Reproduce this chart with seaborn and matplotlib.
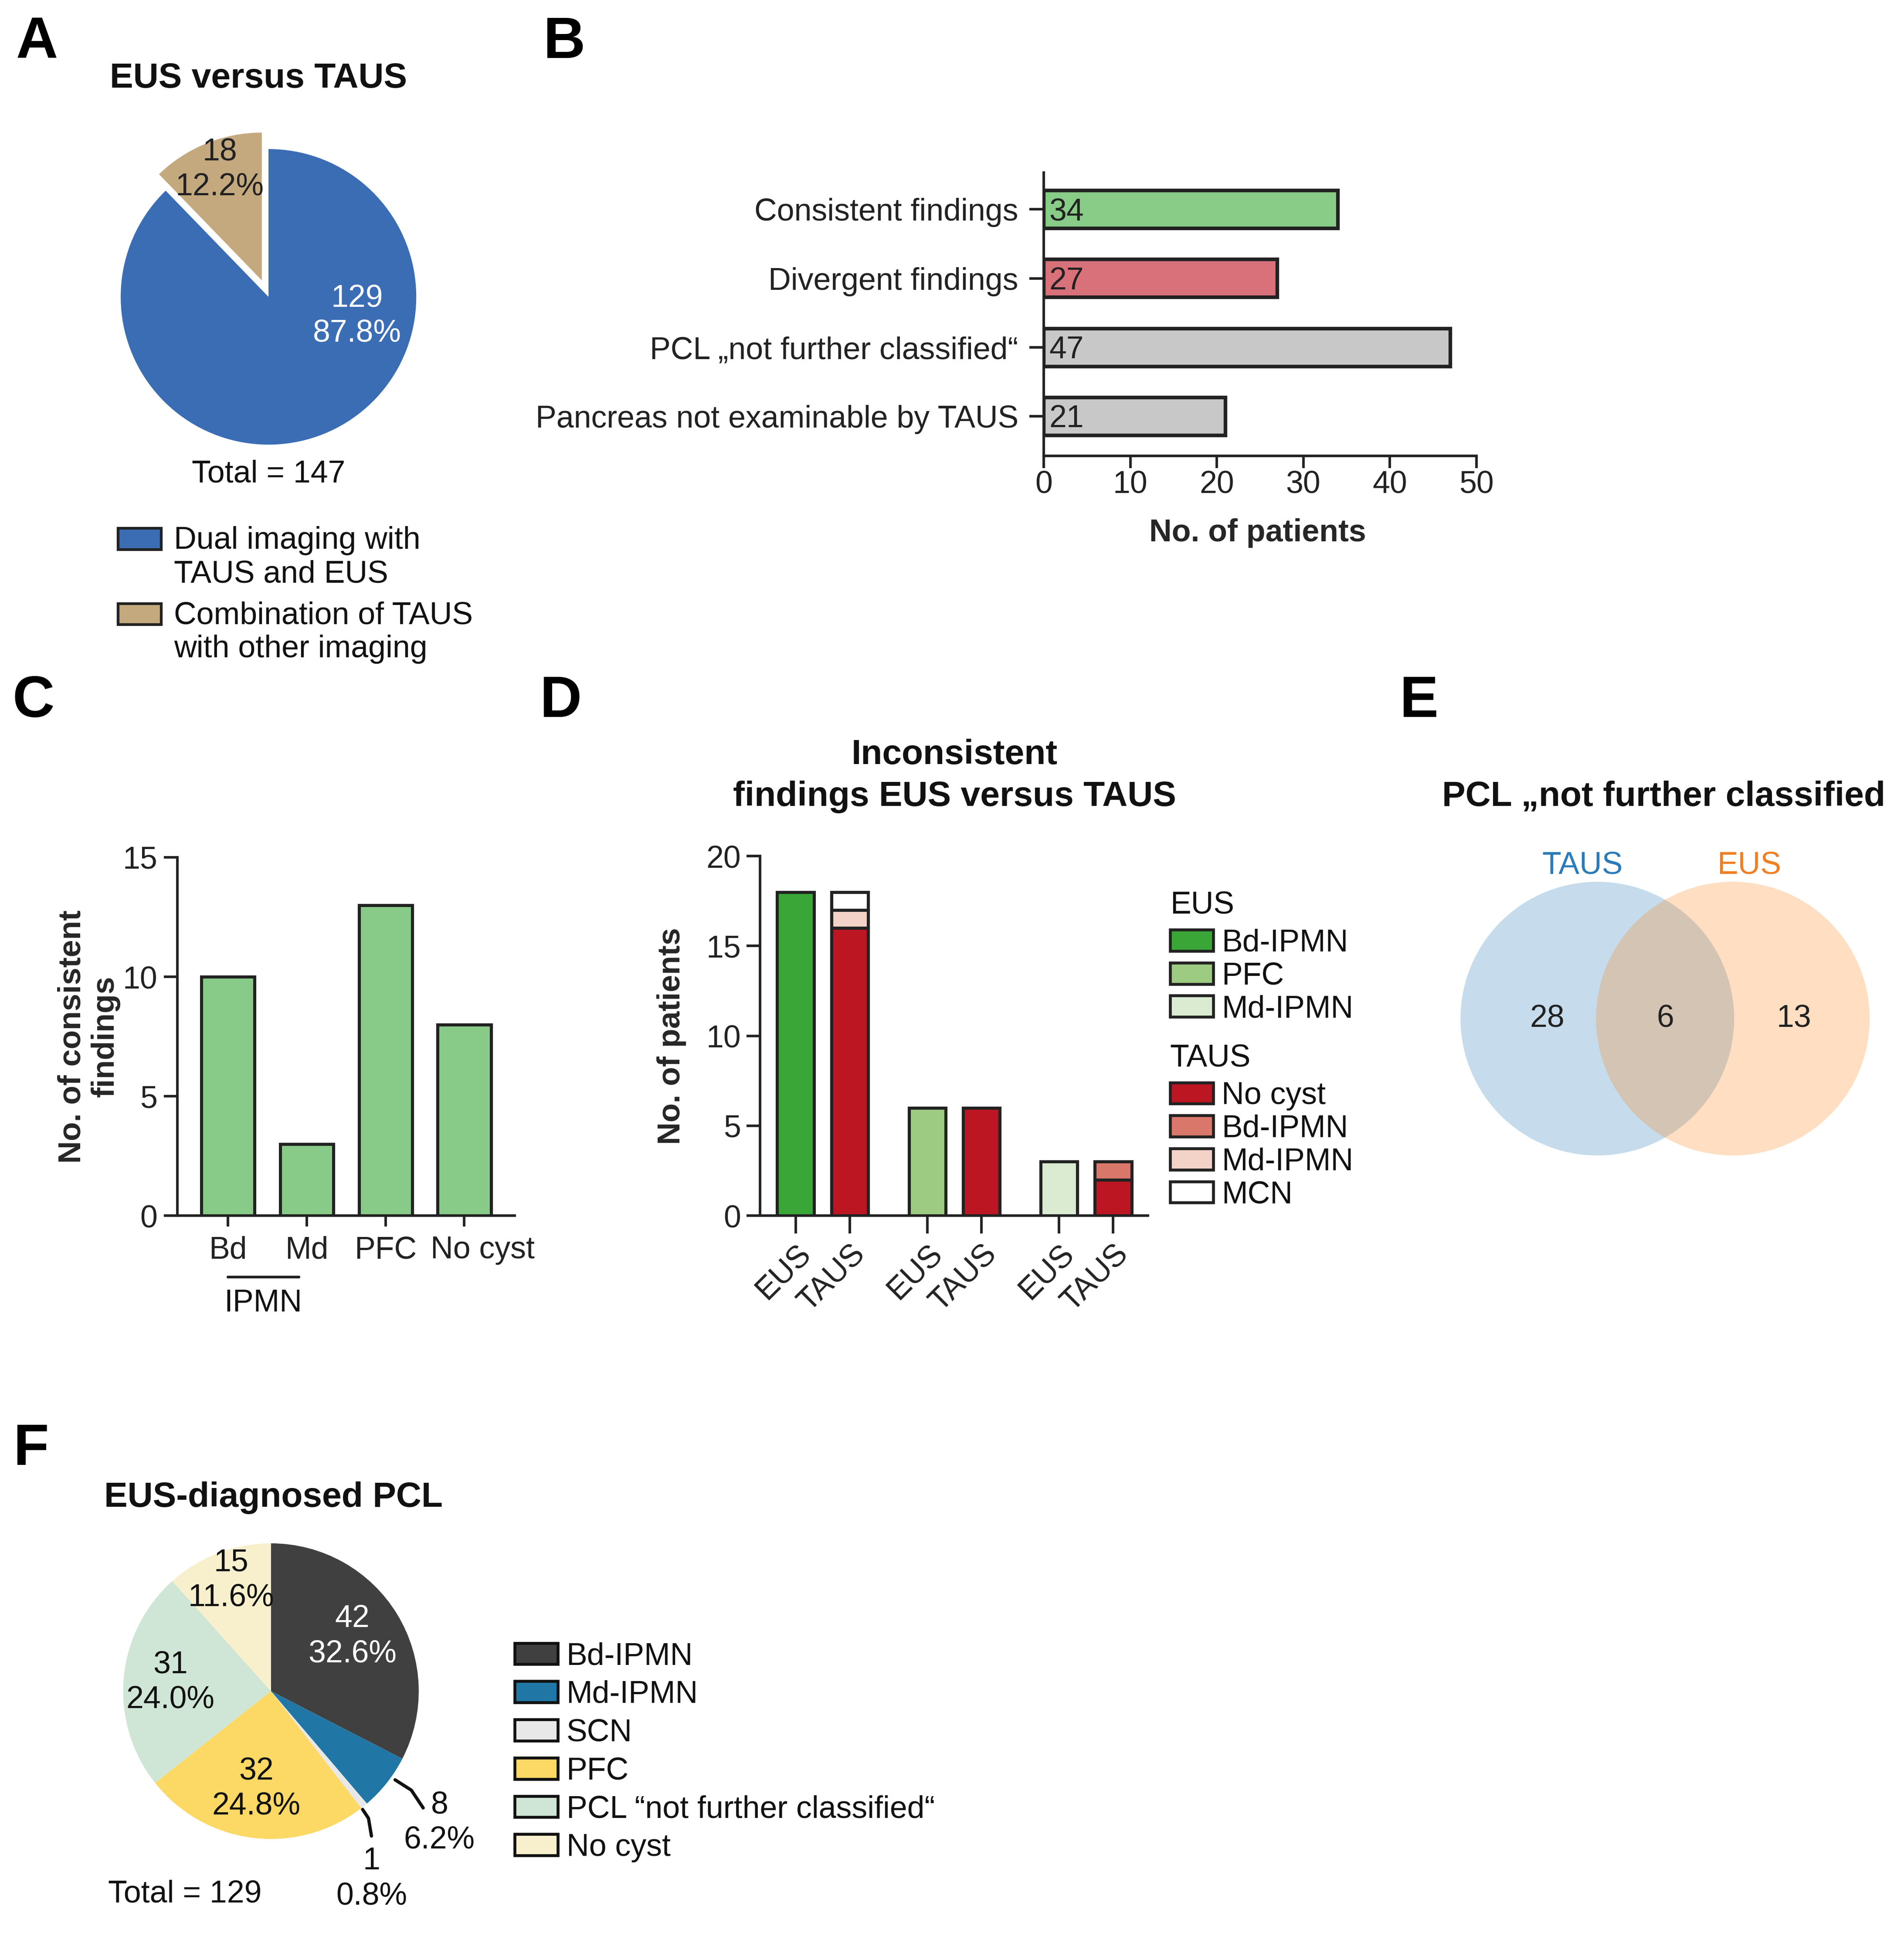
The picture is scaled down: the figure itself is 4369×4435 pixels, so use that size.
import numpy as np
import pandas as pd
import seaborn as sns
import matplotlib.pyplot as plt
from matplotlib.patches import Patch, Circle, Rectangle
from matplotlib.legend_handler import HandlerPatch
from matplotlib.transforms import ScaledTranslation

# ---- data ----
a_labels = ["Dual imaging with\nTAUS and EUS", "Combination of TAUS\nwith other imaging"]
a_counts = [129, 18]
a_pct = ["87.8%", "12.2%"]

b_categories = ["Consistent findings", "Divergent findings",
                "PCL \u201enot further classified\u201c", "Pancreas not examinable by TAUS"]
b_values = [34, 27, 47, 21]

c_categories = ["Bd", "Md", "PFC", "No cyst"]
c_values = [10, 3, 13, 8]

d_bars = ["EUS", "TAUS", "EUS", "TAUS", "EUS", "TAUS"]
d_eus_bd = [18, 0, 0, 0, 0, 0]
d_eus_pfc = [0, 0, 6, 0, 0, 0]
d_eus_md = [0, 0, 0, 0, 3, 0]
d_taus_nocyst = [0, 16, 0, 6, 0, 2]
d_taus_bd = [0, 0, 0, 0, 0, 1]
d_taus_md = [0, 1, 0, 0, 0, 0]
d_taus_mcn = [0, 1, 0, 0, 0, 0]

e_sets = ["TAUS", "EUS"]
e_counts = [28, 6, 13]  # TAUS only, both, EUS only

f_labels = ["Bd-IPMN", "Md-IPMN", "SCN", "PFC", "PCL \u201cnot further classified\u201c", "No cyst"]
f_counts = [42, 8, 1, 32, 31, 15]
f_pct = ["32.6%", "6.2%", "0.8%", "24.8%", "24.0%", "11.6%"]

# ---- style ----
sns.set_theme(style="ticks")
plt.rcParams["font.family"] = ["Liberation Sans", "DejaVu Sans"]
plt.rcParams.update({"axes.linewidth": 1.4, "xtick.major.width": 1.4, "ytick.major.width": 1.4,
                     "xtick.color": "#222222", "ytick.color": "#222222",
                     "axes.edgecolor": "#222222", "text.color": "#111111"})
FS = 17.2
TS = 19.3

fig = plt.figure(figsize=(4369 / 300, 4435 / 300), dpi=300)
S = 2.826
W, H = 4369 / S, 4435 / S


def box(x0, y0, x1, y1):
    return [x0 / W, 1 - y1 / H, (x1 - x0) / W, (y1 - y0) / H]


def ftext(x, y, s, **kw):
    kw.setdefault("ha", "center")
    kw.setdefault("va", "center")
    kw.setdefault("fontsize", FS)
    fig.text(x / W, 1 - y / H, s, **kw)


def top_patch(legend, orig_handle, xdescent, ydescent, width, height, fontsize):
    # align the swatch with the first line of a two-line label
    return Rectangle((-xdescent, -ydescent + 0.6 * fontsize), width, height)


for letter, (x, y) in zip("ABCDEF", [(30, 35), (458, 35), (27, 570), (455, 570), (1152, 570), (25, 1177)]):
    ftext(x, y, letter, fontsize=32, fontweight="bold", color="black")

# ---- A: pie ----
R = 120
ax = fig.add_axes(box(218 - 1.3 * R, 241 - 1.3 * R, 218 + 1.3 * R, 241 + 1.3 * R))
ax.pie(a_counts, colors=["#3b6db4", "#c4a97f"], startangle=90, counterclock=False,
       explode=[0, 0.12], wedgeprops=dict(linewidth=0))
ax.set_xlim(-1.3, 1.3)
ax.set_ylim(-1.3, 1.3)
ax.text(0.6, -0.13, f"{a_counts[0]}\n{a_pct[0]}", color="white", ha="center", va="center",
        fontsize=FS, linespacing=1.25)
ax.text(-0.33, 0.86, f"{a_counts[1]}\n{a_pct[1]}", color="#222222", ha="center", va="center",
        fontsize=FS, linespacing=1.25)
ftext(210, 64, "EUS versus TAUS", fontweight="bold", fontsize=TS)
ftext(218, 385, f"Total = {sum(a_counts)}")
fig.legend(handles=[Patch(facecolor=c, edgecolor="#222222", linewidth=1.5) for c in ["#3b6db4", "#c4a97f"]],
           labels=a_labels, loc="upper left", bbox_to_anchor=(96 / W, 1 - 427 / H), frameon=False,
           fontsize=FS, handlelength=1.38, handleheight=0.67, handletextpad=0.4, labelspacing=0.39,
           borderpad=0, borderaxespad=0, handler_map={Patch: HandlerPatch(patch_func=top_patch)})

# ---- B: horizontal bars ----
ax = fig.add_axes(box(847.5, 140, 1198.7, 370))
df_b = pd.DataFrame({"category": b_categories, "value": b_values})
sns.barplot(data=df_b, y="category", x="value", hue="category", orient="h", legend=False,
            palette=["#88cc88", "#d9717a", "#c8c8c8", "#c8c8c8"], width=0.55,
            edgecolor="#222222", linewidth=2.0, saturation=1, ax=ax)
for i, v in enumerate(b_values):
    ax.text(0.6, i + 0.04, str(v), ha="left", va="center", fontsize=FS, color="#222222")
ax.set_xlim(0, 50)
ax.set_ylim(3.57, -0.536)
ax.set_xticks(range(0, 51, 10))
ax.set_ylabel("")
ax.set_xlabel("No. of patients", fontweight="bold", fontsize=FS)
ax.xaxis.set_label_coords(0.495, -0.22)
ax.tick_params(axis="y", length=8, pad=6, labelsize=FS)
ax.tick_params(axis="x", length=6.8, pad=1, labelsize=FS)
sns.despine(ax=ax)

# ---- C: consistent findings ----
ax = fig.add_axes(box(144, 696, 418, 987))
df_c = pd.DataFrame({"type": c_categories, "count": c_values})
sns.barplot(data=df_c, x="type", y="count", color="#88cb88", saturation=1, width=0.675,
            edgecolor="#222222", linewidth=1.7, ax=ax)
ax.set_xlim(-0.64, 3.64)
ax.set_ylim(0, 15)
ax.set_yticks([0, 5, 10, 15])
ax.set_xlabel("")
ax.set_ylabel("No. of consistent\nfindings", fontweight="bold", fontsize=FS, linespacing=1.15)
ax.yaxis.set_label_coords(-0.17, 0.5)
ax.tick_params(axis="y", length=7.5, pad=3.5, labelsize=FS)
ax.tick_params(axis="x", length=6, pad=5, labelsize=FS)
sns.despine(ax=ax)
# the last category label sits a little to the right of its tick in the original
last = ax.get_xticklabels()[-1]
last.set_transform(last.get_transform() + ScaledTranslation(15 * S / 300, 0, fig.dpi_scale_trans))
ax.plot([0, 0.9], [-0.171, -0.171], color="#222222", lw=1.5, clip_on=False,
        transform=ax.get_xaxis_transform())
ax.text(0.45, -0.245, "IPMN", ha="center", va="center", fontsize=FS, transform=ax.get_xaxis_transform())

# ---- D: inconsistent findings (stacked) ----
ax = fig.add_axes(box(617, 695, 932, 987))
xpos = (np.arange(3)[:, None] * 2.43 + np.array([0, 1])).ravel()
layers = [("EUS", "Bd-IPMN", d_eus_bd, "#3aa637"),
          ("EUS", "PFC", d_eus_pfc, "#9dcb82"),
          ("EUS", "Md-IPMN", d_eus_md, "#dbebd2"),
          ("TAUS", "No cyst", d_taus_nocyst, "#bb1622"),
          ("TAUS", "Bd-IPMN", d_taus_bd, "#d9786a"),
          ("TAUS", "Md-IPMN", d_taus_md, "#f3d2c8"),
          ("TAUS", "MCN", d_taus_mcn, "#ffffff")]
bottom = np.zeros(len(d_bars))
for _, _, vals, col in layers:
    vals = np.array(vals, dtype=float)
    m = vals > 0
    ax.bar(xpos[m], vals[m], bottom=bottom[m], width=0.68, color=col, edgecolor="#222222", linewidth=1.7)
    bottom += vals
ax.set_xlim(-0.66, 6.5)
ax.set_ylim(0, 20)
ax.set_yticks([0, 5, 10, 15, 20])
ax.set_xticks(xpos)
ax.set_xticklabels(d_bars, rotation=45, ha="right", rotation_mode="anchor")
ax.set_ylabel("No. of patients", fontweight="bold", fontsize=FS)
ax.yaxis.set_label_coords(-0.19, 0.5)
ax.tick_params(axis="x", length=9.8, pad=3, labelsize=FS)
ax.tick_params(axis="y", length=7.5, pad=3, labelsize=FS)
sns.despine(ax=ax)
ftext(775, 630, "Inconsistent\nfindings EUS versus TAUS", fontweight="bold", fontsize=TS, linespacing=1.35)
for grp, ty in [("EUS", 735), ("TAUS", 859)]:
    hs = [Patch(facecolor=c, edgecolor="#222222", linewidth=1.6) for g, _, _, c in layers if g == grp]
    ls = [n for g, n, _, _ in layers if g == grp]
    ftext(950, ty, grp, ha="left")
    fig.legend(handles=hs, labels=ls, loc="upper left", bbox_to_anchor=(950 / W, 1 - (ty + 19) / H),
               frameon=False, fontsize=FS, handlelength=1.38, handleheight=0.67, handletextpad=0.27,
               labelspacing=0.12, borderpad=0, borderaxespad=0)

# ---- E: Venn ----
ax = fig.add_axes(box(1163, 690, 1541, 964))
ax.set_xlim(-1.718, 1.718)
ax.set_ylim(-1.245, 1.245)
ax.set_aspect("equal")
ax.axis("off")
for cx, col in zip([-0.5, 0.5], ["#1f77b4", "#ff7f0e"]):
    ax.add_patch(Circle((cx, 0), 1.01, facecolor=col, alpha=0.25, linewidth=0))
ax.text(-0.61, 1.13, e_sets[0], color="#2b7bba", ha="center", va="center", fontsize=FS)
ax.text(0.62, 1.13, e_sets[1], color="#f07f22", ha="center", va="center", fontsize=FS)
for x, n in zip([-0.87, 0, 0.95], e_counts):
    ax.text(x, 0, str(n), ha="center", va="center", fontsize=FS, color="#222222")
ftext(1351, 647, "PCL \u201enot further classified", fontweight="bold", fontsize=TS)

# ---- F: pie ----
f_colors = ["#404040", "#2077a6", "#e8e8e8", "#fcd865", "#cfe5d5", "#f8f0cc"]
ax = fig.add_axes(box(220 - 1.3 * R, 1373 - 1.3 * R, 220 + 1.3 * R, 1373 + 1.3 * R))
ax.pie(f_counts, colors=f_colors, startangle=90, counterclock=False, wedgeprops=dict(linewidth=0))
ax.set_xlim(-1.3, 1.3)
ax.set_ylim(-1.3, 1.3)
inside = {0: (0.55, 0.37, "white"), 3: (-0.1, -0.66, "#111111"),
          4: (-0.68, 0.06, "#111111"), 5: (-0.27, 0.75, "#111111")}
for i, (x, y, c) in inside.items():
    ax.text(x, y, f"{f_counts[i]}\n{f_pct[i]}", ha="center", va="center", color=c,
            fontsize=FS, linespacing=1.25)
ax.plot([0.84, 0.95, 1.03], [-0.6, -0.67, -0.79], color="#111111", lw=1.8, clip_on=False)
ax.text(1.14, -0.89, f"{f_counts[1]}\n{f_pct[1]}", ha="center", va="center", fontsize=FS, linespacing=1.25)
ax.plot([0.62, 0.66, 0.68], [-0.8, -0.86, -0.98], color="#111111", lw=1.8, clip_on=False)
ax.text(0.68, -1.27, f"{f_counts[2]}\n{f_pct[2]}", ha="center", va="center", fontsize=FS, linespacing=1.25)
ftext(150, 1538, f"Total = {sum(f_counts)}")
ftext(222, 1216, "EUS-diagnosed PCL", fontweight="bold", fontsize=TS)
fig.legend(handles=[Patch(facecolor=c, edgecolor="#111111", linewidth=1.6) for c in f_colors],
           labels=f_labels, loc="upper left", bbox_to_anchor=(418 / W, 1 - 1333 / H), frameon=False,
           fontsize=FS, handlelength=1.38, handleheight=0.67, handletextpad=0.27, labelspacing=0.29,
           borderpad=0, borderaxespad=0)

fig.savefig("out.png", dpi=300)
